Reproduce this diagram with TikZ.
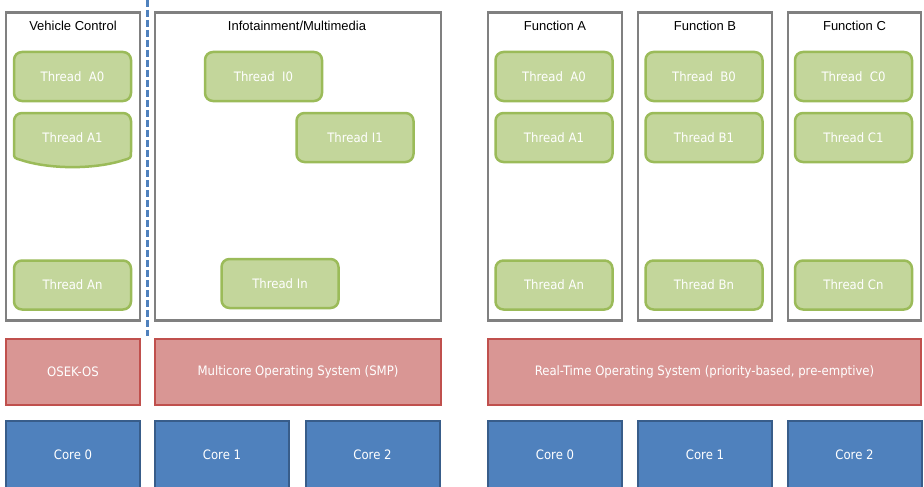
\documentclass[tikz,border=0pt]{standalone}
\usepackage{fontspec}
\setmainfont{Liberation Sans}
\newfontfamily\thfont{DejaVu Sans Condensed}
\definecolor{contgray}{HTML}{808080}
\definecolor{thrfill}{HTML}{C3D69B}
\definecolor{thrline}{HTML}{9BBB59}
\definecolor{osfill}{HTML}{D99694}
\definecolor{osline}{HTML}{C0504D}
\definecolor{corefill}{HTML}{4F81BD}
\definecolor{coreline}{HTML}{385D8A}
\definecolor{dashblue}{HTML}{4F81BD}
\tikzset{
  cont/.style={draw=contgray, line width=2.5pt, fill=white, inner sep=0pt},
  title/.style={font=\fontsize{13}{15}\selectfont, text=black},
  thr/.style={draw=thrline, fill=thrfill, line width=2.5pt, rounded corners=8pt, text=white,
    font=\thfont\fontsize{13}{15}\selectfont, minimum width=117pt, minimum height=49pt, inner sep=0pt},
  thrtext/.style={text=white, font=\thfont\fontsize{13}{15}\selectfont},
  osbox/.style={draw=osline, fill=osfill, line width=2.5pt, text=white,
    font=\thfont\fontsize{13}{15}\selectfont, minimum height=66pt, inner sep=0pt},
  corebox/.style={draw=coreline, fill=corefill, line width=2pt, text=white,
    font=\thfont\fontsize{13}{15}\selectfont, minimum width=134pt, minimum height=68pt, inner sep=0pt},
  dashline/.style={draw=dashblue, line width=2.5pt, dash pattern=on 7pt off 3pt},
}
\begin{document}
\begin{tikzpicture}[x=1pt,y=-1pt]
\useasboundingbox (0,0) rectangle (924,487);
% containers
\draw[cont] (6,12.5) rectangle (140,320.5);
\draw[cont] (155,12.5) rectangle (441,320.5);
\draw[cont] (488,12.5) rectangle (622,320.5);
\draw[cont] (638,12.5) rectangle (772,320.5);
\draw[cont] (788,12.5) rectangle (921,320.5);
\node[title] (tvc) at (73,26) {Vehicle Control};
\node[title] (tinfo) at (297,26) {Infotainment/Multimedia};
\node[title] (tfa) at (555,26) {Function A};
\node[title] (tfb) at (705,26) {Function B};
\node[title] (tfc) at (854.5,26) {Function C};
% vehicle control threads
\node[thr] (vcA0) at (72.5,76.5) {Thread~~A0};
\path[draw=thrline, fill=thrfill, line width=2.5pt, line join=round]
  (14,130) [rounded corners=8pt] -- (14,113) -- (131,113) -- (131,130) [sharp corners]
  -- (131,152)
  .. controls (131,158) .. (124,160)
  .. controls (95,169.5) and (50,169.5) .. (21,160)
  .. controls (14,158) .. (14,152) -- cycle;
\node[thrtext] (vcA1) at (72.5,138) {Thread A1};
\node[thr] (vcAn) at (72.5,285) {Thread An};
% infotainment threads
\node[thr] (iI0) at (263.5,76.5) {Thread~~I0};
\node[thr] (iI1) at (355,137.5) {Thread I1};
\node[thr] (iIn) at (280,283.5) {Thread In};
% function A
\node[thr] (faA0) at (554,76.5) {Thread~~A0};
\node[thr] (faA1) at (554,137.5) {Thread A1};
\node[thr] (faAn) at (554,285) {Thread An};
% function B
\node[thr] (fbB0) at (704,76.5) {Thread~~B0};
\node[thr] (fbB1) at (704,137.5) {Thread B1};
\node[thr] (fbBn) at (704,285) {Thread Bn};
% function C
\node[thr] (fcC0) at (853.5,76.5) {Thread~~C0};
\node[thr] (fcC1) at (853.5,137.5) {Thread C1};
\node[thr] (fcCn) at (853.5,285) {Thread Cn};
% OS layer
\node[osbox, minimum width=134pt] (osek) at (73,372) {OSEK-OS};
\node[osbox, minimum width=286pt] (smp) at (298,372) {Multicore Operating System (SMP)};
\node[osbox, minimum width=433pt] (rtos) at (704.5,372) {Real-Time Operating System (priority-based, pre-emptive)};
% cores
\node[corebox] (c0l) at (73,455) {Core 0};
\node[corebox] (c1l) at (222,455) {Core 1};
\node[corebox] (c2l) at (372.5,455) {Core 2};
\node[corebox] (c0r) at (555,455) {Core 0};
\node[corebox] (c1r) at (705,455) {Core 1};
\node[corebox] (c2r) at (854.5,455) {Core 2};
% dashed separator
\coordinate (dtop) at (147.5,0);
\coordinate (dbot) at (147.5,336);
\draw[dashline] (dtop) -- (dbot);
\end{tikzpicture}
\end{document}
